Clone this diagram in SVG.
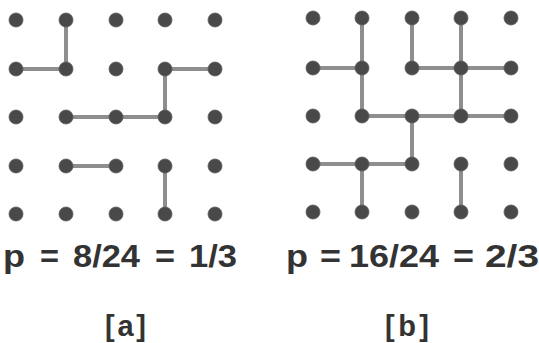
<svg xmlns="http://www.w3.org/2000/svg" width="539" height="343" viewBox="0 0 539 343">
<style>
.dot{fill:#494949;stroke:#5a5a5a;stroke-width:0.8}
.edge{stroke:#8e8e8e;stroke-width:4;stroke-linecap:butt}
.eq{font-family:"Liberation Sans",Arial,sans-serif;font-weight:bold;font-size:31px;fill:#333}
.lab{font-family:"Liberation Sans",Arial,sans-serif;font-weight:bold;font-size:29px;fill:#333}
</style>
<rect width="539" height="343" fill="#fff"/>
<g id="connectors">
<line class="edge" x1="66" y1="20" x2="66" y2="69"/>
<line class="edge" x1="16" y1="69" x2="66" y2="69"/>
<line class="edge" x1="165" y1="69" x2="215" y2="69"/>
<line class="edge" x1="165" y1="69" x2="165" y2="117"/>
<line class="edge" x1="66" y1="117" x2="116" y2="117"/>
<line class="edge" x1="116" y1="117" x2="165" y2="117"/>
<line class="edge" x1="66" y1="166" x2="116" y2="166"/>
<line class="edge" x1="165" y1="166" x2="165" y2="214"/>
<line class="edge" x1="362" y1="18" x2="362" y2="68"/>
<line class="edge" x1="412" y1="18" x2="412" y2="68"/>
<line class="edge" x1="461" y1="18" x2="461" y2="68"/>
<line class="edge" x1="313" y1="68" x2="362" y2="68"/>
<line class="edge" x1="412" y1="68" x2="461" y2="68"/>
<line class="edge" x1="461" y1="68" x2="511" y2="68"/>
<line class="edge" x1="362" y1="68" x2="362" y2="116"/>
<line class="edge" x1="461" y1="68" x2="461" y2="116"/>
<line class="edge" x1="362" y1="116" x2="412" y2="116"/>
<line class="edge" x1="412" y1="116" x2="461" y2="116"/>
<line class="edge" x1="461" y1="116" x2="511" y2="116"/>
<line class="edge" x1="412" y1="116" x2="412" y2="164"/>
<line class="edge" x1="313" y1="164" x2="362" y2="164"/>
<line class="edge" x1="362" y1="164" x2="412" y2="164"/>
<line class="edge" x1="362" y1="164" x2="362" y2="212"/>
<line class="edge" x1="461" y1="164" x2="461" y2="212"/>
</g>
<g id="grid-a">
<g id="a-r0c0"><circle class="dot" cx="16" cy="20" r="7"/></g>
<g id="a-r0c1"><circle class="dot" cx="66" cy="20" r="7"/></g>
<g id="a-r0c2"><circle class="dot" cx="116" cy="20" r="7"/></g>
<g id="a-r0c3"><circle class="dot" cx="165" cy="20" r="7"/></g>
<g id="a-r0c4"><circle class="dot" cx="215" cy="20" r="7"/></g>
<g id="a-r1c0"><circle class="dot" cx="16" cy="69" r="7"/></g>
<g id="a-r1c1"><circle class="dot" cx="66" cy="69" r="7"/></g>
<g id="a-r1c2"><circle class="dot" cx="116" cy="69" r="7"/></g>
<g id="a-r1c3"><circle class="dot" cx="165" cy="69" r="7"/></g>
<g id="a-r1c4"><circle class="dot" cx="215" cy="69" r="7"/></g>
<g id="a-r2c0"><circle class="dot" cx="16" cy="117" r="7"/></g>
<g id="a-r2c1"><circle class="dot" cx="66" cy="117" r="7"/></g>
<g id="a-r2c2"><circle class="dot" cx="116" cy="117" r="7"/></g>
<g id="a-r2c3"><circle class="dot" cx="165" cy="117" r="7"/></g>
<g id="a-r2c4"><circle class="dot" cx="215" cy="117" r="7"/></g>
<g id="a-r3c0"><circle class="dot" cx="16" cy="166" r="7"/></g>
<g id="a-r3c1"><circle class="dot" cx="66" cy="166" r="7"/></g>
<g id="a-r3c2"><circle class="dot" cx="116" cy="166" r="7"/></g>
<g id="a-r3c3"><circle class="dot" cx="165" cy="166" r="7"/></g>
<g id="a-r3c4"><circle class="dot" cx="215" cy="166" r="7"/></g>
<g id="a-r4c0"><circle class="dot" cx="16" cy="214" r="7"/></g>
<g id="a-r4c1"><circle class="dot" cx="66" cy="214" r="7"/></g>
<g id="a-r4c2"><circle class="dot" cx="116" cy="214" r="7"/></g>
<g id="a-r4c3"><circle class="dot" cx="165" cy="214" r="7"/></g>
<g id="a-r4c4"><circle class="dot" cx="215" cy="214" r="7"/></g>
</g>
<g id="grid-b">
<g id="b-r0c0"><circle class="dot" cx="313" cy="18" r="7"/></g>
<g id="b-r0c1"><circle class="dot" cx="362" cy="18" r="7"/></g>
<g id="b-r0c2"><circle class="dot" cx="412" cy="18" r="7"/></g>
<g id="b-r0c3"><circle class="dot" cx="461" cy="18" r="7"/></g>
<g id="b-r0c4"><circle class="dot" cx="511" cy="18" r="7"/></g>
<g id="b-r1c0"><circle class="dot" cx="313" cy="68" r="7"/></g>
<g id="b-r1c1"><circle class="dot" cx="362" cy="68" r="7"/></g>
<g id="b-r1c2"><circle class="dot" cx="412" cy="68" r="7"/></g>
<g id="b-r1c3"><circle class="dot" cx="461" cy="68" r="7"/></g>
<g id="b-r1c4"><circle class="dot" cx="511" cy="68" r="7"/></g>
<g id="b-r2c0"><circle class="dot" cx="313" cy="116" r="7"/></g>
<g id="b-r2c1"><circle class="dot" cx="362" cy="116" r="7"/></g>
<g id="b-r2c2"><circle class="dot" cx="412" cy="116" r="7"/></g>
<g id="b-r2c3"><circle class="dot" cx="461" cy="116" r="7"/></g>
<g id="b-r2c4"><circle class="dot" cx="511" cy="116" r="7"/></g>
<g id="b-r3c0"><circle class="dot" cx="313" cy="164" r="7"/></g>
<g id="b-r3c1"><circle class="dot" cx="362" cy="164" r="7"/></g>
<g id="b-r3c2"><circle class="dot" cx="412" cy="164" r="7"/></g>
<g id="b-r3c3"><circle class="dot" cx="461" cy="164" r="7"/></g>
<g id="b-r3c4"><circle class="dot" cx="511" cy="164" r="7"/></g>
<g id="b-r4c0"><circle class="dot" cx="313" cy="212" r="7"/></g>
<g id="b-r4c1"><circle class="dot" cx="362" cy="212" r="7"/></g>
<g id="b-r4c2"><circle class="dot" cx="412" cy="212" r="7"/></g>
<g id="b-r4c3"><circle class="dot" cx="461" cy="212" r="7"/></g>
<g id="b-r4c4"><circle class="dot" cx="511" cy="212" r="7"/></g>
</g>
<g id="caption-a">
<text class="eq" x="3" y="267" textLength="22" lengthAdjust="spacingAndGlyphs">p</text>
<text class="eq" x="40" y="267" textLength="19" lengthAdjust="spacingAndGlyphs">=</text>
<text class="eq" x="73" y="267" textLength="67" lengthAdjust="spacingAndGlyphs">8/24</text>
<text class="eq" x="155" y="267" textLength="20" lengthAdjust="spacingAndGlyphs">=</text>
<text class="eq" x="189" y="267" textLength="48" lengthAdjust="spacingAndGlyphs">1/3</text>
<text class="lab" x="105" y="336" textLength="41" lengthAdjust="spacing">[a]</text>
</g>
<g id="caption-b">
<text class="eq" x="286" y="267" textLength="22" lengthAdjust="spacingAndGlyphs">p</text>
<text class="eq" x="320" y="267" textLength="21" lengthAdjust="spacingAndGlyphs">=</text>
<text class="eq" x="349" y="267" textLength="90" lengthAdjust="spacingAndGlyphs">16/24</text>
<text class="eq" x="453" y="267" textLength="21" lengthAdjust="spacingAndGlyphs">=</text>
<text class="eq" x="485" y="267" textLength="54" lengthAdjust="spacingAndGlyphs">2/3</text>
<text class="lab" x="385" y="336" textLength="44" lengthAdjust="spacing">[b]</text>
</g>
</svg>
